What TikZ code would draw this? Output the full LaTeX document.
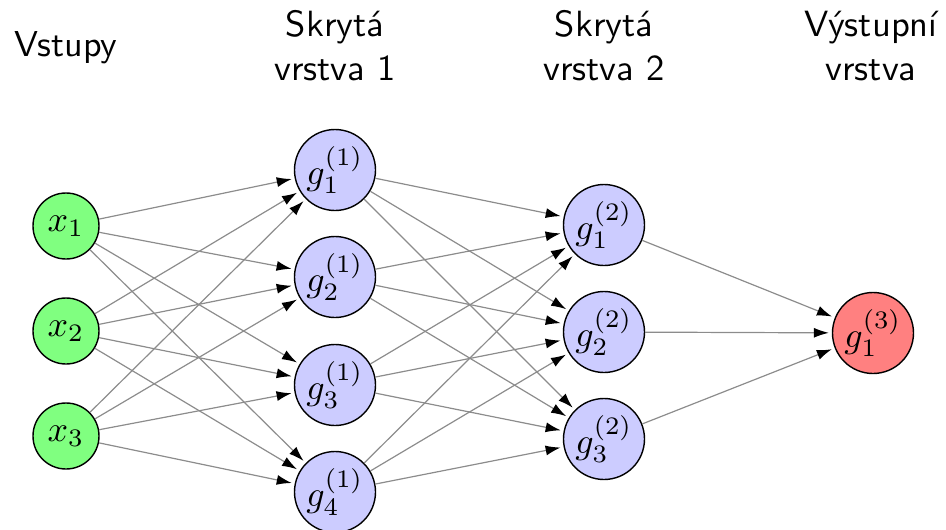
\documentclass[tikz,border=0pt]{standalone}
\usepackage{fontspec}
\usepackage{graphicx}
\usetikzlibrary{arrows.meta}
\newcommand{\bigtxt}[1]{\scalebox{3.6}{#1}}
\newcommand{\hdr}[2]{\scalebox{3.65}{\begin{tabular}{@{}c@{}}#1\\#2\end{tabular}}}
\begin{document}
\begin{tikzpicture}[x=1pt,y=-1pt,
  neuron/.style={circle,draw=black,line width=1.4pt,inner sep=0pt},
  inp/.style={neuron,fill=green!50,minimum size=66pt},
  hid/.style={neuron,fill=blue!20,minimum size=81pt},
  outn/.style={neuron,fill=red!50,minimum size=81pt},
  conn/.style={draw=black!45,line width=1.2pt,-{Latex[length=15pt,width=10pt,color=black]},shorten >=3pt},
  header/.style={font=\sffamily,inner sep=0pt}]
\useasboundingbox (0,0) rectangle (946,530);
% headers
\node[header] (t0) at (66,48) {\bigtxt{Vstupy}};
\node[header] (t1) at (335,50) {\hdr{Skrytá}{vrstva 1}};
\node[header] (t2) at (604,50) {\hdr{Skrytá}{vrstva 2}};
\node[header] (t3) at (871,50) {\hdr{Výstupní}{vrstva}};
% inputs
\node[inp] (x1) at (66,226) {\bigtxt{$x_1$}};
\node[inp] (x2) at (66,331) {\bigtxt{$x_2$}};
\node[inp] (x3) at (66,436) {\bigtxt{$x_3$}};
% hidden 1
\node[hid] (h1) at (335,170) {\bigtxt{$g_1^{(1)}$}};
\node[hid] (h2) at (335,277) {\bigtxt{$g_2^{(1)}$}};
\node[hid] (h3) at (335,385) {\bigtxt{$g_3^{(1)}$}};
\node[hid] (h4) at (335,492) {\bigtxt{$g_4^{(1)}$}};
% hidden 2
\node[hid] (k1) at (604,225) {\bigtxt{$g_1^{(2)}$}};
\node[hid] (k2) at (604,332) {\bigtxt{$g_2^{(2)}$}};
\node[hid] (k3) at (604,439) {\bigtxt{$g_3^{(2)}$}};
% output
\node[outn] (o1) at (873,333) {\bigtxt{$g_1^{(3)}$}};
% connections
\foreach \i in {1,2,3}{\foreach \j in {1,2,3,4}{\draw[conn] (x\i) -- (h\j);}}
\foreach \i in {1,2,3,4}{\foreach \j in {1,2,3}{\draw[conn] (h\i) -- (k\j);}}
\foreach \i in {1,2,3}{\draw[conn] (k\i) -- (o1);}
\end{tikzpicture}
\end{document}
